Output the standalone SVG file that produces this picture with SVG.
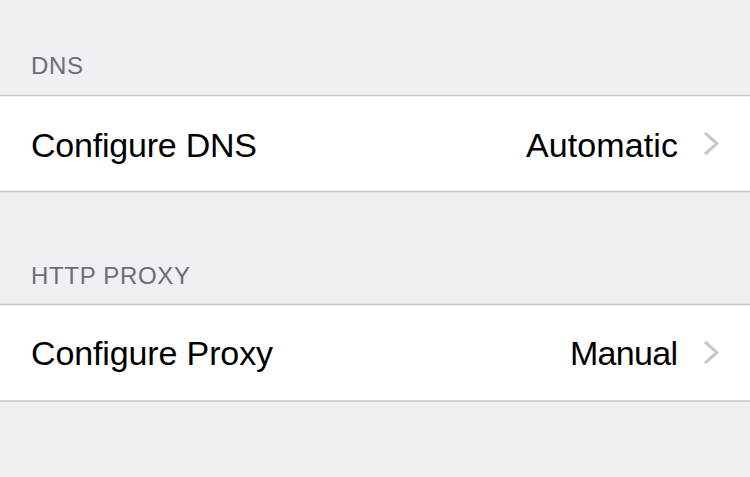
<svg xmlns="http://www.w3.org/2000/svg" width="750" height="477" viewBox="0 0 750 477">
<style>
.bg{fill:#efeff4}
.row{fill:#ffffff}
.sep{stroke:#c8c7cc;stroke-width:1.5}
.hdr{font-family:"Liberation Sans",Arial,sans-serif;font-size:24px;fill:#6d6d72}
.lbl{font-family:"Liberation Sans",Arial,sans-serif;font-size:34px;fill:#000000}
.val{font-family:"Liberation Sans",Arial,sans-serif;font-size:34px;fill:#000000;text-anchor:end}
.chev{fill:none;stroke:#c7c7cc;stroke-width:3;stroke-linecap:butt;stroke-linejoin:miter}
</style>
<rect class="bg" x="0" y="0" width="750" height="477"/>
<g id="dns-section">
  <text class="hdr" x="31" y="74" textLength="52">DNS</text>
  <g id="configure-dns">
    <rect class="row" x="0" y="96" width="750" height="96"/>
    <line class="sep" x1="0" y1="95.5" x2="750" y2="95.5"/>
    <line class="sep" x1="0" y1="191.5" x2="750" y2="191.5"/>
    <text class="lbl" x="31" y="157" textLength="226">Configure DNS</text>
    <text class="val" x="678" y="157" textLength="152">Automatic</text>
    <polyline class="chev" points="705,133 717,143.5 705,154"/>
  </g>
</g>
<g id="proxy-section">
  <text class="hdr" x="31" y="284" textLength="159">HTTP PROXY</text>
  <g id="configure-proxy">
    <rect class="row" x="0" y="305" width="750" height="96"/>
    <line class="sep" x1="0" y1="304.5" x2="750" y2="304.5"/>
    <line class="sep" x1="0" y1="401" x2="750" y2="401"/>
    <text class="lbl" x="31" y="365" textLength="242">Configure Proxy</text>
    <text class="val" x="678" y="365" textLength="108">Manual</text>
    <polyline class="chev" points="705,342 717,352.5 705,363"/>
  </g>
</g>
</svg>
